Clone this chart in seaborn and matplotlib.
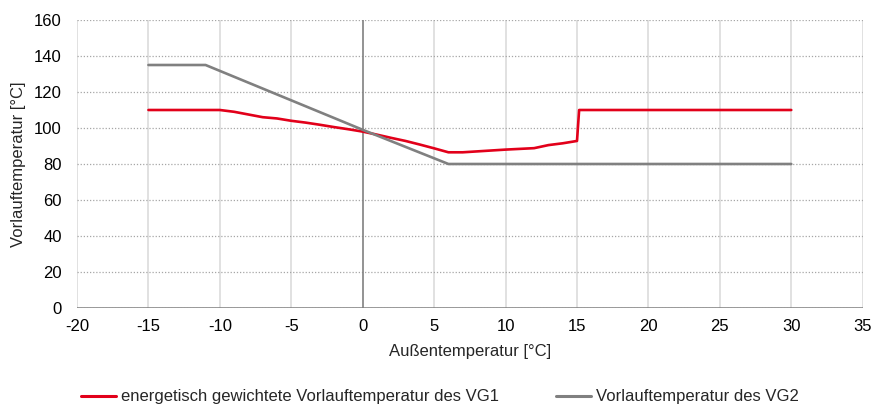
import matplotlib.pyplot as plt
import seaborn as sns
import pandas as pd

# Daten
aussen_vg1 = [-15, -10, -9, -8, -7, -6, -5, -4, -3, -2, -1, 0, 1, 2, 3, 4, 5, 6, 7,
              8, 9, 10, 11, 12, 13, 14, 15, 15.15, 30]
vorlauf_vg1 = [110, 110, 109, 107.5, 106, 105.3, 104, 103, 101.8, 100.5, 99.3, 98,
               96.3, 94.5, 92.8, 90.8, 88.7, 86.5, 86.5, 87, 87.5, 88, 88.4, 88.8,
               90.5, 91.5, 92.8, 110, 110]

aussen_vg2 = [-15, -11, 0, 6, 30]
vorlauf_vg2 = [135, 135, 99, 80, 80]

name_vg1 = "energetisch gewichtete Vorlauftemperatur des VG1"
name_vg2 = "Vorlauftemperatur des VG2"

COLOR_VG1 = '#e2001a'
COLOR_VG2 = '#808080'

x_ticks = list(range(-20, 36, 5))
y_ticks = list(range(0, 161, 20))

df = pd.concat([
    pd.DataFrame({'Außen': aussen_vg1, 'Vorlauf': vorlauf_vg1, 'Serie': name_vg1}),
    pd.DataFrame({'Außen': aussen_vg2, 'Vorlauf': vorlauf_vg2, 'Serie': name_vg2}),
], ignore_index=True)

sns.set_theme(style="white")
plt.rcParams['font.family'] = ['Liberation Sans', 'DejaVu Sans']
plt.rcParams['axes.unicode_minus'] = False

FS = 12

fig = plt.figure(figsize=(8.72, 4.09), dpi=100)
ax = fig.add_axes([77 / 872, 1 - 308 / 409, (862.7 - 77) / 872, (308 - 20) / 409])

sns.lineplot(data=df, x='Außen', y='Vorlauf', hue='Serie', sort=False,
             palette=[COLOR_VG1, COLOR_VG2], linewidth=1.9, ax=ax, legend=False,
             zorder=5)

ax.set_xlim(-20, 35)
ax.set_ylim(0, 160)
ax.set_xticks(x_ticks)
ax.set_yticks(y_ticks)

# Gitter: horizontal gepunktet, vertikal durchgezogen
ax.yaxis.grid(True, linestyle=(0, (1, 1.5)), color='#a6a6a6', linewidth=0.9)
ax.xaxis.grid(True, linestyle='-', color='#d9d9d9', linewidth=1.1)
for s in ax.spines.values():
    s.set_visible(False)
ax.axhline(0, color='#7f7f7f', linewidth=1.1, zorder=3)
ax.axvline(0, color='#7f7f7f', linewidth=1.1, zorder=3)

ax.tick_params(axis='both', length=0, labelsize=FS, colors='black')
ax.tick_params(axis='x', pad=8)
ax.tick_params(axis='y', pad=11)

ax.set_xlabel("Außentemperatur [°C]", fontsize=FS, labelpad=7)
ax.set_ylabel("Vorlauftemperatur [°C]", fontsize=FS, labelpad=6)

handles = [plt.Line2D([], [], color=COLOR_VG1, linewidth=2.2),
           plt.Line2D([], [], color=COLOR_VG2, linewidth=2.2)]
fig.legend(handles, [name_vg1, name_vg2], loc='center left', ncol=2, frameon=False,
           bbox_to_anchor=(81 / 872, 1 - 397 / 409), fontsize=FS, borderpad=0,
           borderaxespad=0, handlelength=2.1, handletextpad=0.3, columnspacing=3.4)

plt.savefig('out.png', dpi=100)
plt.close()
